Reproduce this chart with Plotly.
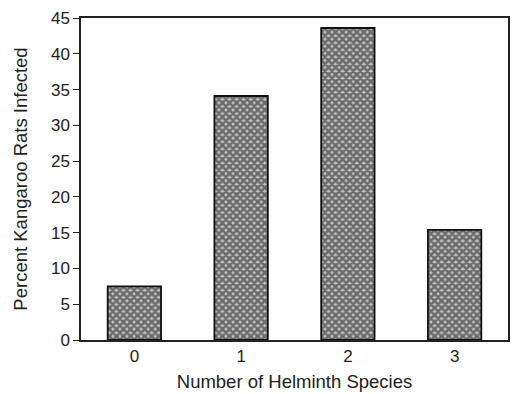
import plotly.graph_objects as go

categories = ["0", "1", "2", "3"]
values = [7.5, 34.1, 43.6, 15.4]
y_ticks = [0, 5, 10, 15, 20, 25, 30, 35, 40, 45]

fig = go.Figure(go.Bar(
    x=categories, y=values, width=0.5,
    marker=dict(color="#b0b0b0",
                line=dict(color="#111", width=1.8),
                pattern=dict(shape="x", fgcolor="#111", bgcolor="#c4c4c4", size=5, solidity=0.75)),
))
fig.update_layout(
    width=512, height=394,
    margin=dict(l=81, r=2, t=18, b=54),
    paper_bgcolor="white", plot_bgcolor="white",
    font=dict(family="Liberation Sans, Arial", color="#222", size=17),
    showlegend=False,
)
fig.update_xaxes(type="category", range=[-0.5, 3.5], showline=True, linecolor="#222", linewidth=1.5,
                 mirror=True, ticks="", title=dict(text="Number of Helminth Species", font=dict(size=18.5), standoff=10),
                 tickfont=dict(size=17))
fig.update_yaxes(range=[0, 45], tickvals=y_ticks, showline=True, linecolor="#222", linewidth=1.5,
                 mirror=True, ticks="outside", ticklen=6, tickcolor="#222", showgrid=False, zeroline=False,
                 title=dict(text="Percent Kangaroo Rats Infected", font=dict(size=18.5), standoff=18),
                 tickfont=dict(size=17))
fig.write_html("out.html")
